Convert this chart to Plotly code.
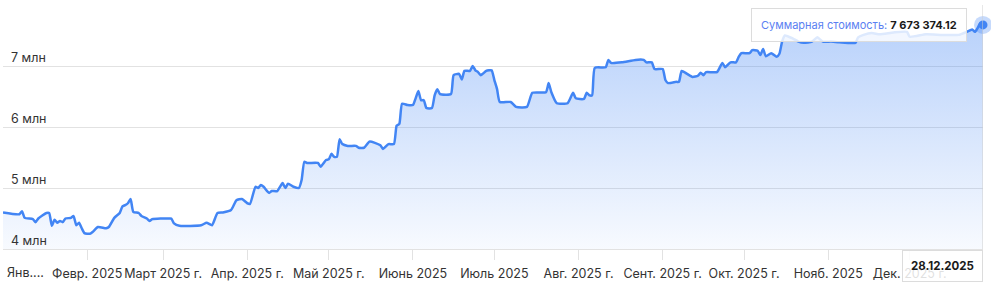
import plotly.graph_objects as go

# ---- data (values in millions of rubles) ----
dates = [
    "2025-01-01", "2025-01-07", "2025-01-08", "2025-01-09", "2025-01-12", "2025-01-13", "2025-01-14",
    "2025-01-17", "2025-01-18", "2025-01-19", "2025-01-20", "2025-01-21", "2025-01-22", "2025-01-23",
    "2025-01-24", "2025-01-26", "2025-01-27", "2025-01-28", "2025-01-29", "2025-01-30", "2025-01-31",
    "2025-02-02", "2025-02-03", "2025-02-05", "2025-02-08", "2025-02-09", "2025-02-11", "2025-02-13",
    "2025-02-14", "2025-02-15", "2025-02-16", "2025-02-17", "2025-02-18", "2025-02-20", "2025-02-21",
    "2025-02-23", "2025-02-24", "2025-02-25", "2025-02-28", "2025-03-03", "2025-03-04", "2025-03-05",
    "2025-03-07", "2025-03-15", "2025-03-17", "2025-03-19", "2025-03-21", "2025-03-23", "2025-03-26",
    "2025-03-28", "2025-03-30", "2025-04-01", "2025-04-02", "2025-04-04", "2025-04-05", "2025-04-06",
    "2025-04-07", "2025-04-09", "2025-04-10", "2025-04-12", "2025-04-14", "2025-04-15", "2025-04-16",
    "2025-04-18", "2025-04-20", "2025-04-21", "2025-04-22", "2025-04-23", "2025-04-27", "2025-04-28",
    "2025-04-30", "2025-05-01", "2025-05-02", "2025-05-03", "2025-05-04", "2025-05-05", "2025-05-06",
    "2025-05-08", "2025-05-11", "2025-05-12", "2025-05-14", "2025-05-16", "2025-05-18", "2025-05-20",
    "2025-05-21", "2025-05-23", "2025-05-25", "2025-05-26", "2025-05-27", "2025-05-28", "2025-05-30",
    "2025-06-01", "2025-06-02", "2025-06-03", "2025-06-04", "2025-06-05", "2025-06-06", "2025-06-08",
    "2025-06-09", "2025-06-10", "2025-06-11", "2025-06-15", "2025-06-16", "2025-06-18", "2025-06-19",
    "2025-06-20", "2025-06-22", "2025-06-23", "2025-06-24", "2025-06-25", "2025-06-26", "2025-06-28",
    "2025-06-29", "2025-06-30", "2025-07-01", "2025-07-02", "2025-07-03", "2025-07-07", "2025-07-09",
    "2025-07-13", "2025-07-15", "2025-07-20", "2025-07-21", "2025-07-22", "2025-07-24", "2025-07-28",
    "2025-07-30", "2025-07-31", "2025-08-03", "2025-08-04", "2025-08-05", "2025-08-06", "2025-08-07",
    "2025-08-11", "2025-08-12", "2025-08-13", "2025-08-17", "2025-08-22", "2025-08-25", "2025-08-26",
    "2025-08-28", "2025-08-29", "2025-09-01", "2025-09-02", "2025-09-03", "2025-09-06", "2025-09-07",
    "2025-09-08", "2025-09-10", "2025-09-12", "2025-09-14", "2025-09-15", "2025-09-16", "2025-09-17",
    "2025-09-21", "2025-09-23", "2025-09-24", "2025-09-26", "2025-09-28", "2025-09-29", "2025-09-30",
    "2025-10-03", "2025-10-04", "2025-10-06", "2025-10-07", "2025-10-08", "2025-10-09", "2025-10-11",
    "2025-10-13", "2025-10-14", "2025-10-15", "2025-10-16", "2025-10-19", "2025-10-21", "2025-10-23",
    "2025-10-26", "2025-10-28", "2025-10-30", "2025-11-02", "2025-11-05", "2025-11-11", "2025-11-12",
    "2025-11-14", "2025-11-17", "2025-11-20", "2025-11-25", "2025-11-30", "2025-12-01", "2025-12-07",
    "2025-12-13", "2025-12-19", "2025-12-22", "2025-12-24", "2025-12-25", "2025-12-26", "2025-12-27",
    "2025-12-28",
]
values = [
    4.60, 4.57, 4.62, 4.51, 4.49, 4.44, 4.50,
    4.59, 4.59, 4.38, 4.48, 4.43, 4.46, 4.44,
    4.50, 4.51, 4.54, 4.39, 4.43, 4.34, 4.26,
    4.25, 4.28, 4.36, 4.34, 4.36, 4.51, 4.59,
    4.70, 4.72, 4.75, 4.82, 4.61, 4.59, 4.54,
    4.50, 4.46, 4.49, 4.50, 4.50, 4.50, 4.42,
    4.38, 4.39, 4.43, 4.39, 4.59, 4.60, 4.64,
    4.80, 4.82, 4.75, 4.74, 5.02, 5.00, 5.05,
    5.02, 4.92, 4.95, 4.95, 5.08, 5.00, 5.07,
    5.02, 5.00, 5.13, 5.43, 5.41, 5.41, 5.35,
    5.46, 5.47, 5.56, 5.51, 5.51, 5.80, 5.72,
    5.69, 5.69, 5.66, 5.66, 5.76, 5.74, 5.70,
    5.64, 5.72, 5.72, 6.02, 6.05, 6.38, 6.36,
    6.36, 6.47, 6.59, 6.44, 6.44, 6.31, 6.31,
    6.52, 6.62, 6.54, 6.54, 6.85, 6.87, 6.78,
    6.92, 6.92, 7.00, 6.93, 6.90, 6.85, 6.92,
    6.93, 6.93, 6.77, 6.62, 6.41, 6.41, 6.33,
    6.33, 6.56, 6.57, 6.72, 6.57, 6.39, 6.39,
    6.56, 6.47, 6.46, 6.56, 6.52, 6.52, 6.97,
    6.98, 7.10, 7.05, 7.06, 7.10, 7.10, 7.06,
    7.06, 6.95, 6.95, 6.77, 6.72, 6.74, 6.74,
    6.92, 6.87, 6.82, 6.84, 6.89, 6.85, 6.90,
    6.90, 7.05, 6.98, 7.06, 7.06, 7.15, 7.21,
    7.21, 7.26, 7.25, 7.18, 7.28, 7.16, 7.21,
    7.15, 7.20, 7.40, 7.50, 7.45, 7.40, 7.38,
    7.40, 7.47, 7.40, 7.40, 7.39, 7.38, 7.47,
    7.51, 7.54, 7.52, 7.55, 7.56, 7.48, 7.52,
    7.51, 7.51, 7.56, 7.60, 7.56, 7.62, 7.70,
    7.67337412,
]

y_tickvals = [4, 5, 6, 7, 8]
y_ticktext = ["4 млн", "5 млн", "6 млн", "7 млн", ""]

x_tickvals = ["2025-01-01", "2025-02-01", "2025-03-01", "2025-04-01", "2025-05-01", "2025-06-01",
              "2025-07-01", "2025-08-01", "2025-09-01", "2025-10-01", "2025-11-01", "2025-12-01"]
x_ticktext = ["", "Февр. 2025", "Март 2025 г.", "Апр. 2025 г.", "Май 2025 г.", "Июнь 2025",
              "Июль 2025", "Авг. 2025 г.", "Сент. 2025 г.", "Окт. 2025 г.", "Нояб. 2025", "Дек. 2025 г."]
first_month_label = "Янв...."

tooltip_name = "Суммарная стоимость"
tooltip_value = "7 673 374.12"
tooltip_date = "28.12.2025"

# ---- styles ----
FONT = "Inter"
LINE = "#4285f4"
GRID = "#e2e2e2"
TEXT = "#333333"

fig = go.Figure()
fig.add_trace(go.Scatter(
    x=dates, y=values, mode="lines",
    line=dict(color=LINE, width=2.5, shape="spline", smoothing=0.5),
    fill="tozeroy",
    fillgradient=dict(type="vertical",
                      colorscale=[[0, "rgba(66,133,244,0.04)"], [1, "rgba(66,133,244,0.40)"]],
                      start=4, stop=8),
    hoverinfo="skip", showlegend=False,
))
# highlighted last point
fig.add_trace(go.Scatter(
    x=[dates[-1]], y=[values[-1]], mode="markers",
    marker=dict(size=18, color="rgba(66,133,244,0.30)"),
    cliponaxis=False, hoverinfo="skip", showlegend=False,
))
fig.add_trace(go.Scatter(
    x=[dates[-1]], y=[values[-1]], mode="markers",
    marker=dict(size=9, color=LINE),
    cliponaxis=False, hoverinfo="skip", showlegend=False,
))

fig.add_shape(type="line", xref="x", yref="paper", x0=dates[-1], x1=dates[-1], y0=0, y1=1,
              line=dict(color="#cfcfcf", width=1))

fig.add_annotation(
    x=dates[0], xref="x", y=0, yref="paper", xanchor="left", yanchor="top",
    xshift=2, yshift=-14, text=first_month_label, showarrow=False,
    font=dict(family=FONT, size=12.5, color=TEXT),
)
fig.add_annotation(
    x=dates[-1], xref="x", y=values[-1], yref="y", xanchor="right", yanchor="middle",
    xshift=-16, yshift=0, showarrow=False,
    text=f"<span style='color:#5b7ff2'>{tooltip_name}:</span> <b>{tooltip_value}</b>",
    font=dict(family=FONT, size=11, color="#1a1a1a"),
    bgcolor="rgba(255,255,255,0.82)", bordercolor="#dcdcdc", borderwidth=1, borderpad=9,
)
fig.add_annotation(
    x=dates[-1], xref="x", y=0, yref="paper", xanchor="right", yanchor="top",
    xshift=0, yshift=-1, showarrow=False,
    text=f"<b>{tooltip_date}</b>",
    font=dict(family=FONT, size=11.5, color="#1a1a1a"),
    bgcolor="rgba(255,255,255,0.85)", bordercolor="#dcdcdc", borderwidth=1, borderpad=8,
)

fig.update_layout(
    width=991, height=288,
    margin=dict(l=3, r=8, t=5, b=39),
    paper_bgcolor="white", plot_bgcolor="white",
    font=dict(family=FONT, size=13, color=TEXT),
    xaxis=dict(
        type="date", range=["2025-01-01", "2025-12-28"],
        tickmode="array", tickvals=x_tickvals, ticktext=x_ticktext,
        tickangle=0, automargin=False, ticklabelstandoff=3,
        ticks="outside", ticklen=10, tickcolor=GRID, tickwidth=1,
        showline=True, linecolor=GRID, linewidth=1,
        showgrid=False, zeroline=False,
        tickfont=dict(family=FONT, size=12.5, color=TEXT),
    ),
    yaxis=dict(
        range=[4, 8], tickmode="array", tickvals=y_tickvals, ticktext=y_ticktext,
        ticklabelposition="inside top", ticklabelstandoff=5, automargin=False,
        showgrid=True, gridcolor=GRID, gridwidth=1,
        showline=False, zeroline=False, ticks="",
        tickfont=dict(family=FONT, size=12.5, color=TEXT),
    ),
)

fig.write_html("out.html")
